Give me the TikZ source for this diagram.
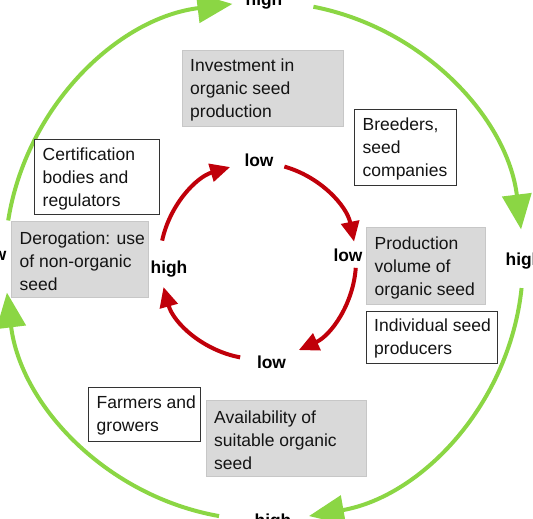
\documentclass[tikz,border=0pt]{standalone}
\usepackage{fontspec}
\setmainfont{Liberation Sans}
\usetikzlibrary{arrows.meta}
\definecolor{grn}{RGB}{139,214,68}
\definecolor{rd}{RGB}{192,0,10}
\definecolor{boxgray}{RGB}{217,217,217}
\definecolor{txtc}{RGB}{20,20,20}
\begin{document}
\begin{tikzpicture}[x=1pt,y=-1pt,
  gbox/.style={fill=boxgray, draw=black!22, line width=0.6pt, inner sep=0pt, anchor=north west},
  wbox/.style={fill=white, draw=black!80, line width=0.9pt, inner sep=0pt, anchor=north west},
  btxt/.style={align=left, inner sep=0pt, font=\fontsize{17.5}{23}\selectfont, text=txtc, anchor=west},
  lbl/.style={font=\fontsize{17.4}{20}\selectfont\bfseries, text=black, anchor=base, inner sep=0pt},
  garc/.style={draw=grn, line width=4pt, -{Triangle[length=35pt,width=29pt]}},
  rarc/.style={draw=rd, line width=4pt, -{Triangle[length=20pt,width=18pt]}},
]
\useasboundingbox (0,0) rectangle (533,519);
\clip (0,0) rectangle (533,519);

\coordinate (oc) at (264,261);
\coordinate (ic) at (258,261);

% outer green cycle
\draw[garc] ([shift={(171:259pt)}]oc) arc[start angle=171, end angle=97, radius=259pt];
\draw[garc] ([shift={(79:259pt)}]oc) arc[start angle=79, end angle=7, radius=259pt];
\draw[garc] ([shift={(-6:259pt)}]oc) arc[start angle=-6, end angle=-80, radius=259pt];
\draw[garc] ([shift={(-100:259pt)}]oc) arc[start angle=-100, end angle=-173, radius=259pt];

% inner red cycle
\draw[rarc] ([shift={(168:98pt)}]ic) arc[start angle=168, end angle=106.5, radius=98pt];
\draw[rarc] ([shift={(74.4:98pt)}]ic) arc[start angle=74.4, end angle=11.4, radius=98pt];
\draw[rarc] ([shift={(-4:98pt)}]ic) arc[start angle=-4, end angle=-65.4, radius=98pt];
\draw[rarc] ([shift={(-100.5:98pt)}]ic) arc[start angle=-100.5, end angle=-164.6, radius=98pt];

% outer labels
\node[lbl] (otop) at (264,5.5) {high};
\node[lbl] (oright) at (524,265) {high};
\node[lbl] (obottom) at (273,526) {high};
\node[lbl] (oleft) at (-8,260) {low};

% inner labels
\node[lbl] (itop) at (259,166) {low};
\node[lbl] (iright) at (348,261) {low};
\node[lbl] (ibottom) at (271.5,368) {low};
\node[lbl] (ileft) at (169,273) {high};

% boxes
\node[gbox, minimum width=161pt, minimum height=76pt] (inv) at (182,50) {};
\node[btxt] (invt) at ([xshift=8pt,yshift=-2pt]inv.west) {Investment in\\organic seed\\production};

\node[wbox, minimum width=102pt, minimum height=76pt] (brd) at (354,109) {};
\node[btxt] (brdt) at ([xshift=8.5pt,yshift=-2pt]brd.west) {Breeders,\\seed\\companies};

\node[wbox, minimum width=125pt, minimum height=75pt] (cert) at (34,139) {};
\node[btxt] (certt) at ([xshift=8.5pt,yshift=-2pt]cert.west) {Certification\\bodies and\\regulators};

\node[gbox, minimum width=137pt, minimum height=76pt] (der) at (11,221) {};
\node[btxt] (dert) at ([xshift=8.5pt,yshift=-2pt]der.west) {Derogation: use\\of non-organic\\seed};

\node[gbox, minimum width=119pt, minimum height=77pt] (prod) at (366,227) {};
\node[btxt] (prodt) at ([xshift=8.5pt,yshift=-2pt]prod.west) {Production\\volume of\\organic seed};

\node[wbox, minimum width=131pt, minimum height=52pt] (ind) at (366,311) {};
\node[btxt] (indt) at ([xshift=8pt,yshift=-1.5pt]ind.west) {Individual seed\\producers};

\node[wbox, minimum width=112pt, minimum height=54pt] (farm) at (88,387) {};
\node[btxt] (farmt) at ([xshift=8.5pt,yshift=-1.5pt]farm.west) {Farmers and\\growers};

\node[gbox, minimum width=160pt, minimum height=76pt] (avail) at (206,400) {};
\node[btxt] (availt) at ([xshift=8pt,yshift=-2pt]avail.west) {Availability of\\suitable organic\\seed};
\end{tikzpicture}
\end{document}
